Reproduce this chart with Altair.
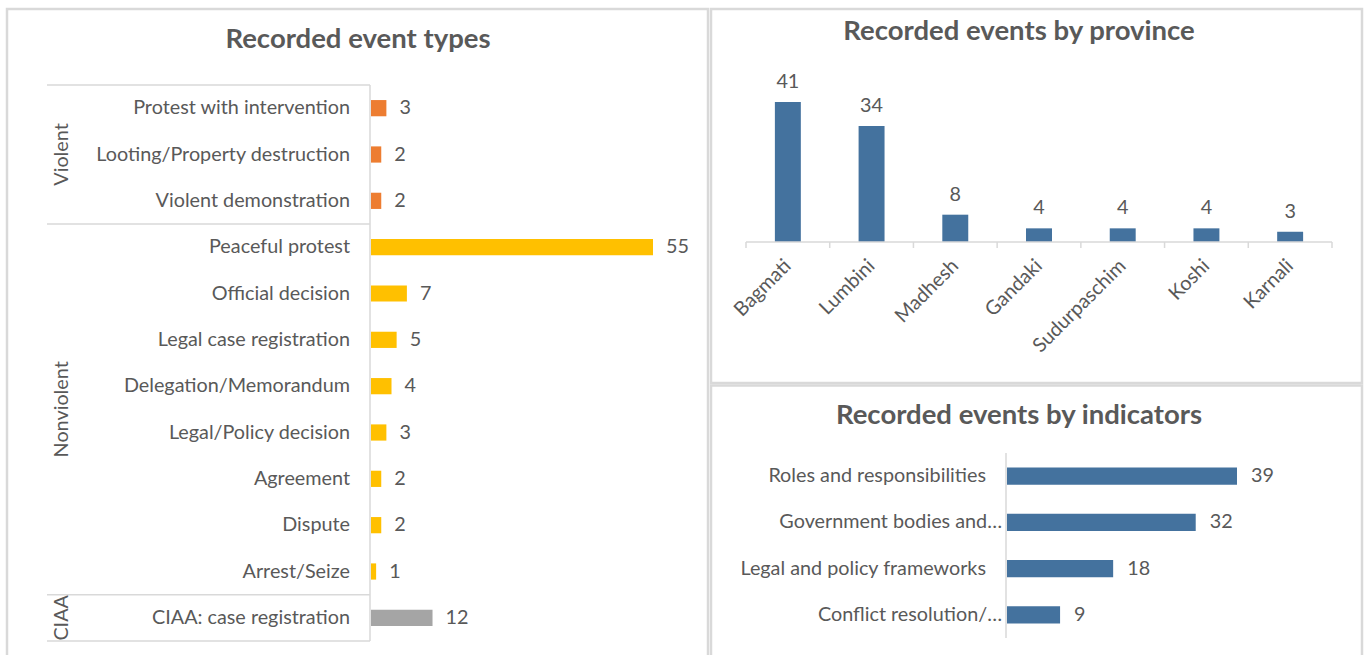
import altair as alt
import pandas as pd

FONT = "Lato"
TEXT = "#595959"
LINE = "#d9d9d9"
BLUE = "#44729E"
LABEL_SIZE = 19.8
TITLE_SIZE = 27.5

# ---- Recorded event types ----
event_groups = ["Violent", "Violent", "Violent",
                "Nonviolent", "Nonviolent", "Nonviolent", "Nonviolent",
                "Nonviolent", "Nonviolent", "Nonviolent", "Nonviolent",
                "CIAA"]
event_types = ["Protest with intervention", "Looting/Property destruction",
               "Violent demonstration", "Peaceful protest", "Official decision",
               "Legal case registration", "Delegation/Memorandum",
               "Legal/Policy decision", "Agreement", "Dispute", "Arrest/Seize",
               "CIAA: case registration"]
event_counts = [3, 2, 2, 55, 7, 5, 4, 3, 2, 2, 1, 12]

group_names = ["Violent", "Nonviolent", "CIAA"]
group_colors = ["#ED7D31", "#FFC000", "#A5A5A5"]

# ---- Recorded events by province ----
provinces = ["Bagmati", "Lumbini", "Madhesh", "Gandaki", "Sudurpaschim", "Koshi", "Karnali"]
province_counts = [41, 34, 8, 4, 4, 4, 3]

# ---- Recorded events by indicators ----
indicators = ["Roles and responsibilities", "Government bodies and…",
              "Legal and policy frameworks", "Conflict resolution/…"]
indicator_counts = [39, 32, 18, 9]

events = pd.DataFrame({"group": event_groups, "type": event_types, "count": event_counts})
prov = pd.DataFrame({"province": provinces, "count": province_counts})
ind = pd.DataFrame({"indicator": indicators, "count": indicator_counts})

# group extents along the category axis (in rows)
sizes = [event_groups.count(g) for g in group_names]
bounds = [0]
for s in sizes:
    bounds.append(bounds[-1] + s)
groups = pd.DataFrame({"group": group_names,
                       "mid": [(bounds[i] + bounds[i + 1]) / 2 for i in range(len(group_names))]})
seps = pd.DataFrame({"pos": bounds})

one = pd.DataFrame({"k": [0]})


def text_style(**kw):
    base = dict(font=FONT, fontSize=LABEL_SIZE, color=TEXT)
    base.update(kw)
    return base


# ================= left panel =================
ev_y = alt.Scale(domain=event_types, range=[85, 641], paddingInner=0.65, paddingOuter=0.325)
ev_x = alt.Scale(domain=[0, 55], range=[371, 653], nice=False, zero=True)
Yev = alt.Y("type:N", scale=ev_y, axis=None, sort=None)
Xev = alt.X("count:Q", scale=ev_x, axis=None)

ev_bars = alt.Chart(events).mark_bar().encode(
    y=Yev, x=Xev,
    color=alt.Color("group:N", scale=alt.Scale(domain=group_names, range=group_colors), legend=None),
)
ev_vals = alt.Chart(events).mark_text(align="left", baseline="middle", dx=13, **text_style()).encode(
    y=Yev, x=Xev, text="count:Q")
ev_labels = alt.Chart(events).mark_text(align="right", baseline="middle", **text_style()).encode(
    y=Yev, x=alt.value(350), text="type:N")
left_main = alt.layer(ev_bars, ev_vals, ev_labels)

row_scale = alt.Scale(domain=[0, len(event_types)], range=[85, 641], nice=False, zero=False)
ev_seps = alt.Chart(seps).mark_rule(color=LINE, strokeWidth=1.5).encode(
    y=alt.Y("pos:Q", scale=row_scale, axis=None), x=alt.value(47), x2=alt.value(370))
ev_groups = alt.Chart(groups).mark_text(angle=270, align="center", baseline="middle", **text_style()).encode(
    y=alt.Y("mid:Q", scale=row_scale, axis=None), x=alt.value(62), text="group:N")
ev_axis = alt.Chart(one).mark_rule(color=LINE, strokeWidth=1.5).encode(
    x=alt.value(370), y=alt.value(85), y2=alt.value(641))
left_guides = alt.layer(ev_seps, ev_groups, ev_axis)

# ================= province panel =================
pv_x = alt.Scale(domain=provinces, range=[746, 1332], paddingInner=0.69, paddingOuter=0.345)
pv_y = alt.Scale(domain=[0, 41], range=[242, 102], nice=False, zero=True)
Xpv = alt.X("province:N", scale=pv_x, axis=None, sort=None)
Ypv = alt.Y("count:Q", scale=pv_y, axis=None)

pv_bars = alt.Chart(prov).mark_bar(color=BLUE).encode(x=Xpv, y=Ypv)
pv_vals = alt.Chart(prov).mark_text(align="center", baseline="alphabetic", dy=-14, **text_style()).encode(
    x=Xpv, y=Ypv, text="count:Q")
pv_labels = alt.Chart(prov).mark_text(angle=315, align="right", baseline="middle", dx=0, **text_style()).encode(
    x=Xpv, y=alt.value(263), text="province:N")
pv_axis = alt.Chart(one).mark_rule(color=LINE, strokeWidth=1.5).encode(
    y=alt.value(242), x=alt.value(746), x2=alt.value(1332))
prov_main = alt.layer(pv_bars, pv_vals, pv_labels, pv_axis)

ticks = pd.DataFrame({"edge": list(range(len(provinces) + 1))})
pv_ticks = alt.Chart(ticks).mark_rule(color=LINE, strokeWidth=1.5).encode(
    x=alt.X("edge:Q", scale=alt.Scale(domain=[0, len(provinces)], range=[746, 1332], nice=False, zero=False), axis=None),
    y=alt.value(242), y2=alt.value(248))

# ================= indicator panel =================
in_y = alt.Scale(domain=indicators, range=[453, 638], paddingInner=0.63, paddingOuter=0.315)
in_x = alt.Scale(domain=[0, 39], range=[1007, 1237], nice=False, zero=True)
Yin = alt.Y("indicator:N", scale=in_y, axis=None, sort=None)
Xin = alt.X("count:Q", scale=in_x, axis=None)

in_bars = alt.Chart(ind).mark_bar(color=BLUE).encode(y=Yin, x=Xin)
in_vals = alt.Chart(ind).mark_text(align="left", baseline="middle", dx=14, **text_style()).encode(
    y=Yin, x=Xin, text="count:Q")
in_full = alt.Chart(ind).transform_filter("indexof(datum.indicator, '…') < 0").mark_text(
    align="right", baseline="middle", **text_style()).encode(y=Yin, x=alt.value(986), text="indicator:N")
in_cut = alt.Chart(ind).transform_filter("indexof(datum.indicator, '…') >= 0").mark_text(
    align="right", baseline="middle", **text_style()).encode(y=Yin, x=alt.value(1002), text="indicator:N")
in_axis = alt.Chart(one).mark_rule(color=LINE, strokeWidth=1.5).encode(
    x=alt.value(1006), y=alt.value(453), y2=alt.value(638))
ind_main = alt.layer(in_bars, in_vals, in_full, in_cut, in_axis)

# ================= titles and frames =================
titles = pd.DataFrame({
    "title": ["Recorded event types", "Recorded events by province", "Recorded events by indicators"],
})


def title_mark(i, x, y):
    return alt.Chart(titles.iloc[[i]]).mark_text(
        align="center", baseline="middle", **text_style(fontSize=TITLE_SIZE, fontWeight="bold")
    ).encode(text="title:N", x=alt.value(x), y=alt.value(y))


frame_style = dict(fillOpacity=0, stroke=LINE, strokeWidth=2.5)
frames = alt.layer(
    alt.Chart(one).mark_rect(**frame_style).encode(
        x=alt.value(7), x2=alt.value(708), y=alt.value(9), y2=alt.value(680)),
    alt.Chart(one).mark_rect(**frame_style).encode(
        x=alt.value(711), x2=alt.value(1362), y=alt.value(9), y2=alt.value(383)),
    alt.Chart(one).mark_rect(**frame_style).encode(
        x=alt.value(711), x2=alt.value(1362), y=alt.value(385.5), y2=alt.value(680)),
    title_mark(0, 358, 40),
    title_mark(1, 1019, 32),
    title_mark(2, 1019, 416),
)

chart = alt.layer(
    frames, left_guides, left_main, pv_ticks, prov_main, ind_main
).resolve_scale(
    x="independent", y="independent", color="independent"
).properties(
    width=1366, height=655, padding=0, background="white",
    autosize=alt.AutoSizeParams(type="none"),
).configure_view(stroke=None)

chart.save("out.html", embed_options={"renderer": "svg", "actions": False})
